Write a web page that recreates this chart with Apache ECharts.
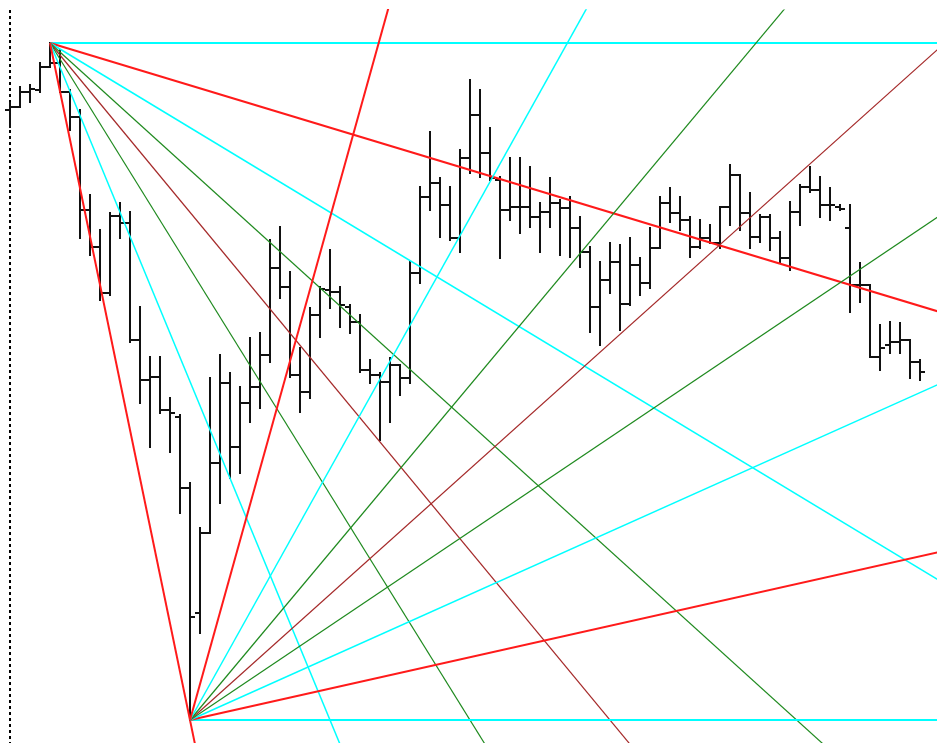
<!DOCTYPE html>
<html>
<head>
<meta charset="utf-8">
<script src="https://cdn.jsdelivr.net/npm/echarts@6/dist/echarts.min.js"></script>
<style>
html,body{margin:0;padding:0;background:#fff;}
#chart{width:937px;height:743px;}
</style>
</head>
<body>
<div id="chart"></div>
<script>
// OHLC bars (price units), one per bar index
var opens  = [640,643,658,660,683,687,658,633,540,503,457,534,527,410,370,373,340,333,262,137,
              217,287,367,303,347,363,395,482,463,375,358,435,460,458,443,428,380,375,368,385,
              372,477,553,567,545,512,592,635,597,570,540,543,543,533,538,547,542,522,498,443,
              470,488,446,485,467,502,547,537,530,503,512,507,543,575,537,513,533,512,492,538,
              563,560,545,543,522,465,465,393,405,408,410,388];
var highs  = [647,663,665,687,707,700,660,640,555,520,537,547,538,443,393,393,352,335,267,222,
              372,395,377,363,412,417,510,523,478,402,442,463,500,463,445,435,390,377,392,385,
              488,563,618,572,563,600,670,660,622,573,592,592,583,547,572,550,553,533,503,488,
              507,505,512,492,522,553,562,553,533,530,525,543,585,575,557,535,535,518,548,565,
              583,573,562,545,545,487,465,425,428,427,410,390];
var lows   = [623,643,648,658,683,658,620,512,495,450,455,512,408,347,303,337,298,237,30,117,
              217,247,272,277,328,342,388,452,373,338,352,413,442,423,417,378,367,310,328,355,
              367,467,540,513,510,498,577,573,570,492,530,517,523,498,523,495,493,483,418,405,
              457,420,445,455,462,502,528,520,493,502,507,502,525,520,502,508,500,487,480,525,
              558,533,530,540,438,448,393,380,397,397,372,370];
var closes = [643,658,661,683,687,658,633,540,503,457,534,527,410,370,373,340,337,262,133,217,
              287,367,303,347,363,395,482,463,375,358,435,461,458,445,428,380,375,368,385,372,
              477,553,567,545,512,592,635,597,572,540,543,543,533,538,547,542,522,498,443,470,
              488,446,485,467,502,547,537,530,503,512,507,543,575,537,513,533,512,492,538,563,
              560,545,545,541,465,465,393,402,408,410,388,378];

// Gann fan pivots (bar index, price) and 1x1 speed (price per bar)
var topPivot = [4, 707];
var topUnit = 12.09;
var bottomPivot = [18, 30];
var bottomUnit = 8.97;
var fanRatios = [0, 0.25, 0.5, 0.75, 1, 4/3, 2, 4];
var fanColors = ['#00ffff', '#ff1a1a', '#00ffff', '#1f8a1f', '#a52a2a', '#1f8a1f', '#00ffff', '#ff1a1a'];
var fanWidths = [2, 2, 1.5, 1.2, 1.2, 1.2, 1.5, 2];

var X_MAX = 92.7, Y_MIN = 7, Y_MAX = 740;

var ohlc = opens.map(function (o, i) { return [i, o, highs[i], lows[i], closes[i]]; });

var series = [];
function addFan(pivot, unit, dir, name) {
  var reach = 300;
  fanRatios.forEach(function (r, k) {
    series.push({
      type: 'line', name: name + k, z: 3, silent: true, symbol: 'none', clip: true,
      lineStyle: { color: fanColors[k], width: fanWidths[k] },
      data: [[pivot[0], pivot[1]], [pivot[0] + reach, pivot[1] + dir * r * unit * reach]]
    });
  });
}
addFan(topPivot, topUnit, -1, 'top');
addFan(bottomPivot, bottomUnit, 1, 'bottom');

series.push({
  type: 'line', z: 1, silent: true, symbol: 'none',
  lineStyle: { color: '#000', width: 2, type: [3, 3] },
  data: [[0, Y_MAX], [0, Y_MIN]]
});

series.push({
  type: 'custom', z: 2, data: ohlc, clip: false,
  renderItem: function (params, api) {
    var x = api.value(0);
    var o = api.coord([x, api.value(1)]);
    var h = api.coord([x, api.value(2)]);
    var l = api.coord([x, api.value(3)]);
    var c = api.coord([x, api.value(4)]);
    var w = api.size([1, 0])[0] * 0.5;
    var st = { stroke: '#111', lineWidth: 2 };
    return {
      type: 'group',
      children: [
        { type: 'line', shape: { x1: h[0], y1: h[1] - 1, x2: l[0], y2: l[1] + 1 }, style: st },
        { type: 'line', shape: { x1: o[0] - w, y1: o[1], x2: o[0], y2: o[1] }, style: st },
        { type: 'line', shape: { x1: c[0], y1: c[1], x2: c[0] + w, y2: c[1] }, style: st }
      ]
    };
  }
});

var chart = echarts.init(document.getElementById('chart'), null, { renderer: 'canvas' });
chart.setOption({
  animation: false,
  backgroundColor: '#ffffff',
  grid: { left: 10, top: 10, right: 0, bottom: 0 },
  xAxis: { type: 'value', min: 0, max: X_MAX, show: false, splitLine: { show: false } },
  yAxis: { type: 'value', min: Y_MIN, max: Y_MAX, show: false, splitLine: { show: false } },
  series: series
});
</script>
</body>
</html>
